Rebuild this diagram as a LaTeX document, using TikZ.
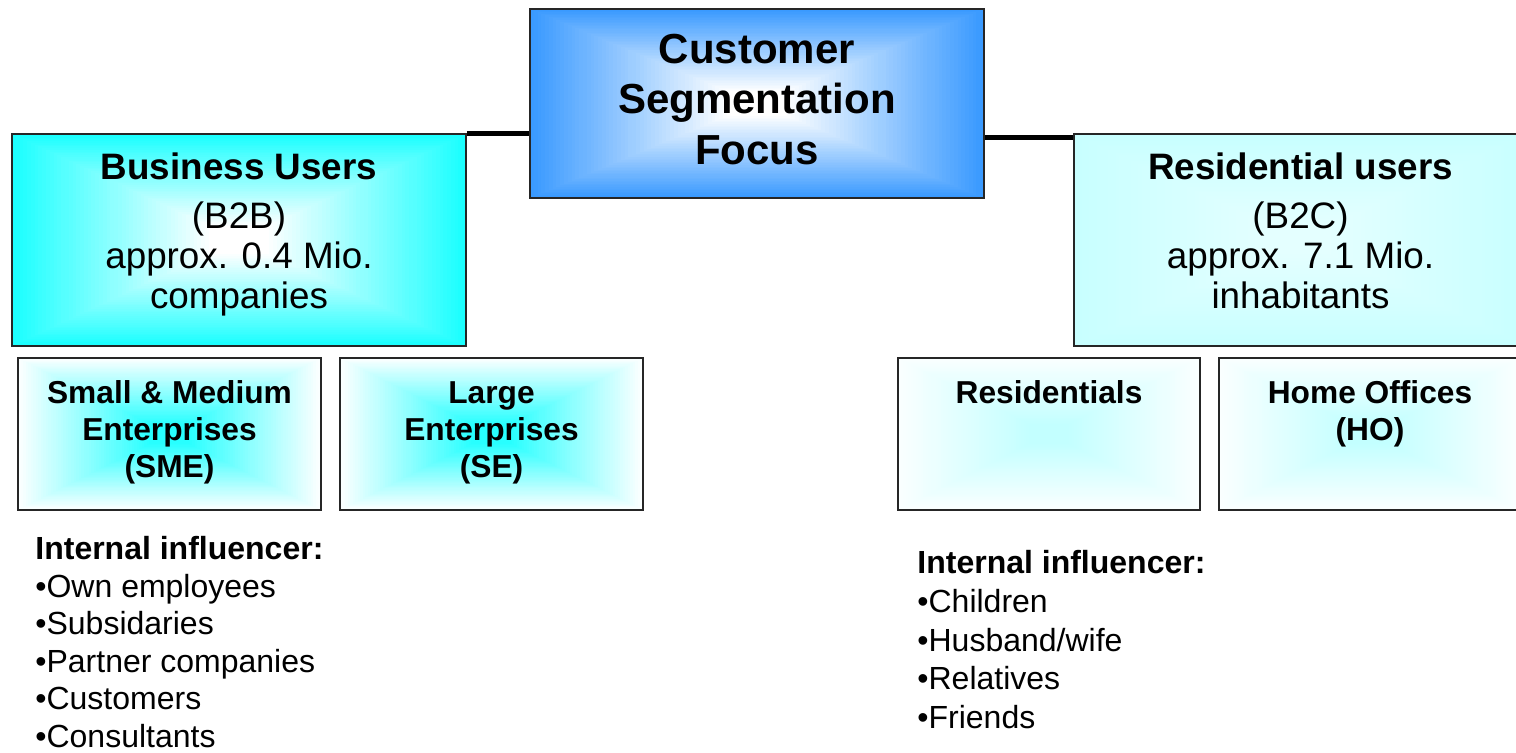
\documentclass[tikz,border=0pt]{standalone}
\usepackage{fontspec}
\setmainfont{Liberation Sans}
\usetikzlibrary{calc}
\definecolor{cfE}{RGB}{58,154,255}
\definecolor{cfC}{RGB}{255,255,255}
\definecolor{buE}{RGB}{28,255,255}
\definecolor{buC}{RGB}{255,255,255}
\definecolor{ruE}{RGB}{200,255,255}
\definecolor{ruC}{RGB}{228,255,255}
\definecolor{smE}{RGB}{250,255,255}
\definecolor{smC}{RGB}{40,255,255}
\definecolor{rsE}{RGB}{250,255,255}
\definecolor{rsC}{RGB}{195,255,255}
\newcommand\BoxText[4]{\begin{minipage}[c][#2][t]{#1}\centering\rule{0pt}{#3}#4\end{minipage}}
\tikzset{
  gradbox/.style 2 args={draw=black!85, line width=0.8pt, inner sep=0pt, fill=#1,
    path picture={
      \foreach \gi in {0,...,59}{
        \pgfmathsetmacro\gf{1-\gi/60}
        \pgfmathtruncatemacro\gp{min(100,100*\gi/52)}
        \fill[#2!\gp!#1]
          ($(path picture bounding box.center)!\gf!(path picture bounding box.north west)$)
          rectangle
          ($(path picture bounding box.center)!\gf!(path picture bounding box.south east)$);
      }
    }},
  toptxt/.style={font=\fontsize{21}{25.25}\selectfont\bfseries},
  segtxt/.style={font=\fontsize{18.4}{20}\selectfont},
  subtxt/.style={font=\fontsize{15.85}{18.5}\selectfont\bfseries},
  listtxt/.style={align=left, inner sep=0pt, anchor=north west},
  conn/.style={line width=2.4pt, black},
}
\begin{document}
\begin{tikzpicture}[x=0.5pt,y=-0.5pt]
\useasboundingbox (0,0) rectangle (1516,752);
\clip (0,0) rectangle (1516,752);
\node[gradbox={cfE}{cfC}, toptxt] (cf) at (757,103.5)
  {\BoxText{227pt}{94.5pt}{27pt}{Customer\\Segmentation\\Focus}};
\node[gradbox={buE}{buC}, segtxt] (bu) at (239,240)
  {\BoxText{227pt}{106pt}{22.75pt}{\textbf{Business Users}\\[4.5pt](B2B)\\approx. 0.4 Mio.\\companies}};
\node[gradbox={ruE}{ruC}, segtxt] (ru) at (1300.5,240)
  {\BoxText{226.5pt}{106pt}{22.75pt}{\textbf{Residential users}\\[4.5pt](B2C)\\approx. 7.1 Mio.\\inhabitants}};
\node[gradbox={smE}{smC}, subtxt] (sme) at (169.5,434)
  {\BoxText{151.5pt}{76pt}{22.5pt}{Small \& Medium\\Enterprises\\(SME)}};
\node[gradbox={smE}{smC}, subtxt] (se) at (491.5,434)
  {\BoxText{151.5pt}{76pt}{22.5pt}{Large\\Enterprises\\(SE)}};
\node[gradbox={rsE}{rsC}, subtxt] (res) at (1049,434)
  {\BoxText{151pt}{76pt}{22.5pt}{Residentials}};
\node[gradbox={rsE}{rsC}, subtxt] (ho) at (1370,434)
  {\BoxText{151pt}{76pt}{22.5pt}{Home Offices\\(HO)}};
\node[listtxt, font=\fontsize{16}{18.8}\selectfont] (binf) at (35,533)
  {\rule{0pt}{13pt}\textbf{Internal influencer:}\\•Own employees\\•Subsidaries\\•Partner companies\\•Customers\\•Consultants};
\node[listtxt, font=\fontsize{16}{19.4}\selectfont] (rinf) at (917,547)
  {\rule{0pt}{13pt}\textbf{Internal influencer:}\\•Children\\•Husband/wife\\•Relatives\\•Friends};
\draw[conn] (bu.north east) -- (bu.north east -| cf.west);
\draw[conn] ([yshift=-2pt]ru.north west) -- ([yshift=-2pt]ru.north west -| cf.east);
\end{tikzpicture}
\end{document}
